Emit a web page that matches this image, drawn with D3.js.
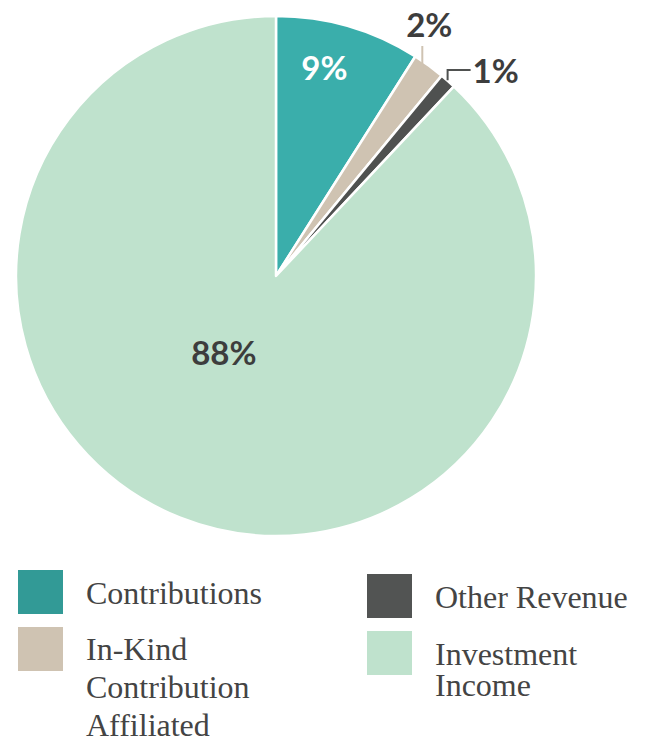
<!DOCTYPE html>
<html>
<head>
<meta charset="utf-8">
<script src="https://cdn.jsdelivr.net/npm/d3@7"></script>
<style>
  body { margin: 0; background: #fff; }
  .pct { font-family: "Lato", "Open Sans", sans-serif; font-weight: 700; font-size: 33px; }
  .leg { font-family: "Liberation Serif", "DejaVu Serif", serif; fill: #444; font-size: 32px; }
</style>
</head>
<body>
<script>

var categories = ["Contributions", "In-Kind Contribution Affiliated", "Other Revenue", "Investment Income"]
var values = [9, 2, 1, 88]
var labels = ["9%", "2%", "1%", "88%"]
var pieColors = ["#3aaeab", "#cfc3b2", "#4f5150", "#bfe2cd"]
var swatchColors = ["#329a96", "#cfc3b2", "#525453", "#bfe2cd"]

var width = 647, height = 743
var cx = 276, cy = 276, radius = 260

var svg = d3.select("body").append("svg")
    .attr("width", width)
    .attr("height", height)

var g = svg.append("g").attr("transform", "translate(" + cx + "," + cy + ")")

var pie = d3.pie().sort(null).value(function(d){ return d })
var arc = d3.arc().innerRadius(0).outerRadius(radius)
var arcs = pie(values)

g.selectAll("path")
  .data(arcs)
  .enter().append("path")
    .attr("d", arc)
    .attr("fill", function(d, i){ return pieColors[i] })
    .attr("stroke", "white")
    .attr("stroke-width", 2.5)
    .attr("stroke-linejoin", "round")

function mid(d){ return (d.startAngle + d.endAngle) / 2 }
function polar(a, r){ return [r * Math.sin(a), -r * Math.cos(a)] }

// inside labels
var p9 = polar(mid(arcs[0]) - 0.05, 214)
g.append("text").attr("class", "pct")
    .attr("x", p9[0] - 1).attr("y", p9[1] + 12)
    .attr("text-anchor", "middle")
    .attr("fill", "white")
    .text(labels[0])

var p88 = polar(mid(arcs[3]) + 0.2, 92)
g.append("text").attr("class", "pct")
    .attr("x", p88[0] - 2).attr("y", p88[1] + 12)
    .attr("text-anchor", "middle")
    .attr("fill", "#3d3d3d")
    .text(labels[3])

// outside labels with leader lines
var o2 = polar(mid(arcs[1]), radius - 6)
g.append("line")
    .attr("x1", o2[0] - 3).attr("y1", o2[1])
    .attr("x2", o2[0] - 3).attr("y2", 46 - cy)
    .attr("stroke", "#cfc3b2").attr("stroke-width", 2)
g.append("text").attr("class", "pct")
    .attr("x", o2[0] + 4).attr("y", 37 - cy)
    .attr("text-anchor", "middle")
    .attr("fill", "#3d3d3d")
    .text(labels[1])

var o1 = polar(mid(arcs[2]), radius + 1)
g.append("polyline")
    .attr("points", [[o1[0] - 1, o1[1]], [o1[0] - 1, 70 - cy], [o1[0] + 22, 70 - cy]].join(" "))
    .attr("fill", "none")
    .attr("stroke", "#4f5150").attr("stroke-width", 2)
g.append("text").attr("class", "pct")
    .attr("x", o1[0] + 24).attr("y", 83 - cy)
    .attr("fill", "#3d3d3d")
    .text(labels[2])

// legend
var legendLines = [["Contributions"], ["In-Kind", "Contribution", "Affiliated"], ["Other Revenue"], ["Investment", "Income"]]
var legX = [18, 18, 367, 367]
var legY = [570, 627, 574, 631]
var lineGap = [40, 38, 40, 31]
var firstBase = [34, 33, 34, 34]

var leg = svg.selectAll(".legend")
    .data(categories)
  .enter().append("g")
    .attr("class", "legend")
    .attr("transform", function(d, i){ return "translate(" + legX[i] + "," + legY[i] + ")" })

leg.append("rect")
    .attr("width", 45)
    .attr("height", 44)
    .attr("fill", function(d, i){ return swatchColors[i] })

leg.each(function(d, i){
  var t = d3.select(this).append("text").attr("class", "leg")
  legendLines[i].forEach(function(s, j){
    t.append("tspan").attr("x", 68).attr("y", firstBase[i] + j * lineGap[i]).text(s)
  })
})

</script>
</body>
</html>
